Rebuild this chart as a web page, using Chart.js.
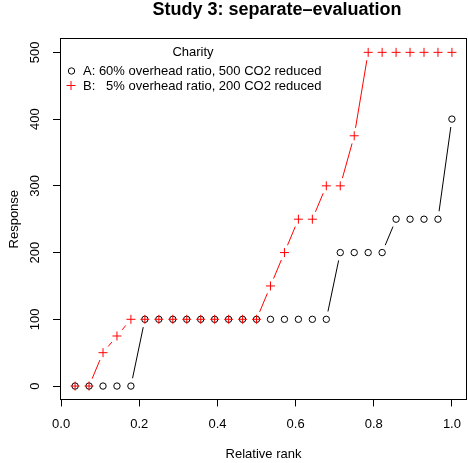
<!DOCTYPE html>
<html>
<head>
  <meta charset="UTF-8">
  <title>Study 3: separate-evaluation</title>
  <script src="https://cdn.jsdelivr.net/npm/chart.js"></script>
  <style>
    body { margin: 0; background: #fff; overflow: hidden; }
    #wrap { width: 468px; height: 463px; }
    canvas { display: block; }
  </style>
</head>
<body>
  <div id="wrap"><canvas id="chart" width="468" height="463"></canvas></div>
  <script>
    // relative rank = i / 28
    const ranks = [1,2,3,4,5,6,7,8,9,10,11,12,13,14,15,16,17,18,19,20,21,22,23,24,25,26,27,28].map(i => i / 28);
    const charityA = [0,0,0,0,0,100,100,100,100,100,100,100,100,100,100,100,100,100,100,200,200,200,200,250,250,250,250,400];
    const charityB = [0,0,50,75,100,100,100,100,100,100,100,100,100,100,150,200,250,250,300,300,375,500,500,500,500,500,500,500];
    const xTicks = [0, 0.2, 0.4, 0.6, 0.8, 1.0];
    const yTicks = [0, 100, 200, 300, 400, 500];
    const legendTitle = 'Charity';
    const legendA = 'A: 60% overhead ratio, 500 CO2 reduced';
    const legendB = 'B:   5% overhead ratio, 200 CO2 reduced';

    const FONT = 'Liberation Sans, Arial, Helvetica, sans-serif';
    const GAP = 8;

    // R type="b": segments between points, cut back near each point
    const gapLines = {
      id: 'gapLines',
      beforeDatasetsDraw(chart) {
        const ctx = chart.ctx;
        chart.data.datasets.forEach((ds, i) => {
          const pts = chart.getDatasetMeta(i).data;
          ctx.save();
          ctx.strokeStyle = ds.borderColor;
          ctx.lineWidth = 1;
          for (let k = 0; k < pts.length - 1; k++) {
            const a = pts[k], b = pts[k + 1];
            const dx = b.x - a.x, dy = b.y - a.y;
            const len = Math.hypot(dx, dy);
            if (len <= 2 * GAP) continue;
            const ux = dx / len, uy = dy / len;
            ctx.beginPath();
            ctx.moveTo(a.x + ux * GAP, a.y + uy * GAP);
            ctx.lineTo(b.x - ux * GAP, b.y - uy * GAP);
            ctx.stroke();
          }
          ctx.restore();
        });
      }
    };

    const decorations = {
      id: 'decorations',
      afterDraw(chart) {
        const ctx = chart.ctx;
        const area = chart.chartArea;
        ctx.save();
        ctx.strokeStyle = '#000';
        ctx.lineWidth = 1;
        ctx.strokeRect(Math.round(area.left) + 0.5, Math.round(area.top) - 0.5,
          Math.round(area.right - area.left) - 1, Math.round(area.bottom - area.top) + 1);

        ctx.fillStyle = '#000';
        ctx.font = 'bold 18px ' + FONT;
        ctx.textAlign = 'center';
        ctx.textBaseline = 'alphabetic';
        ctx.fillText('Study 3: separate\u2013evaluation', 277, 15);

        ctx.font = '13px ' + FONT;
        ctx.fillText(legendTitle, 193, 56);
        ctx.textAlign = 'left';
        ctx.fillText(legendA, 83, 75);
        ctx.fillText(legendB, 83, 89.5);

        ctx.beginPath();
        ctx.arc(71.5, 71, 3.2, 0, Math.PI * 2);
        ctx.stroke();
        ctx.strokeStyle = '#ff0000';
        ctx.beginPath();
        ctx.moveTo(66.5, 85.5); ctx.lineTo(75.5, 85.5);
        ctx.moveTo(71, 81); ctx.lineTo(71, 90);
        ctx.stroke();
        ctx.restore();
      }
    };

    new Chart(document.getElementById('chart'), {
      type: 'scatter',
      data: {
        datasets: [
          {
            label: 'A',
            data: ranks.map((x, i) => ({ x: x, y: charityA[i] })),
            pointStyle: 'circle',
            pointRadius: 3.2,
            borderColor: '#000000',
            backgroundColor: 'rgba(0,0,0,0)',
            borderWidth: 1,
            order: 1
          },
          {
            label: 'B',
            data: ranks.map((x, i) => ({ x: x, y: charityB[i] })),
            pointStyle: 'cross',
            pointRadius: 4.5,
            borderColor: '#ff0000',
            backgroundColor: '#ff0000',
            borderWidth: 1,
            order: 0
          }
        ]
      },
      options: {
        responsive: false,
        animation: false,
        events: [],
        layout: { autoPadding: false, padding: { top: 39, right: 1, left: 0, bottom: 0 } },
        plugins: {
          legend: { display: false },
          title: { display: false },
          tooltip: { enabled: false }
        },
        scales: {
          x: {
            type: 'linear',
            min: -0.0029,
            max: 1.0386,
            afterBuildTicks: s => { s.ticks = xTicks.map(v => ({ value: v })); },
            afterFit: s => { s.height = 63.6; },
            border: { display: false },
            grid: { drawOnChartArea: false, drawTicks: true, tickLength: 7, color: '#000' },
            ticks: {
              color: '#000',
              padding: 3,
              maxRotation: 0,
              font: { family: FONT, size: 13, lineHeight: 2.28 },
              callback: v => v.toFixed(1)
            },
            title: {
              display: true,
              text: 'Relative rank',
              color: '#000',
              padding: { top: 0, bottom: 1 },
              font: { family: FONT, size: 13 }
            }
          },
          y: {
            type: 'linear',
            min: -20,
            max: 520,
            afterBuildTicks: s => { s.ticks = yTicks.map(v => ({ value: v })); },
            afterFit: s => { s.width = 60; },
            border: { display: false },
            grid: { drawOnChartArea: false, drawTicks: true, tickLength: 7, color: '#000' },
            ticks: {
              color: '#000',
              padding: 7,
              minRotation: 90,
              maxRotation: 90,
              crossAlign: 'center',
              font: { family: FONT, size: 13 }
            },
            title: {
              display: true,
              text: 'Response',
              color: '#000',
              padding: { top: 7, bottom: 0 },
              font: { family: FONT, size: 13 }
            }
          }
        }
      },
      plugins: [gapLines, decorations]
    });
  </script>
</body>
</html>
